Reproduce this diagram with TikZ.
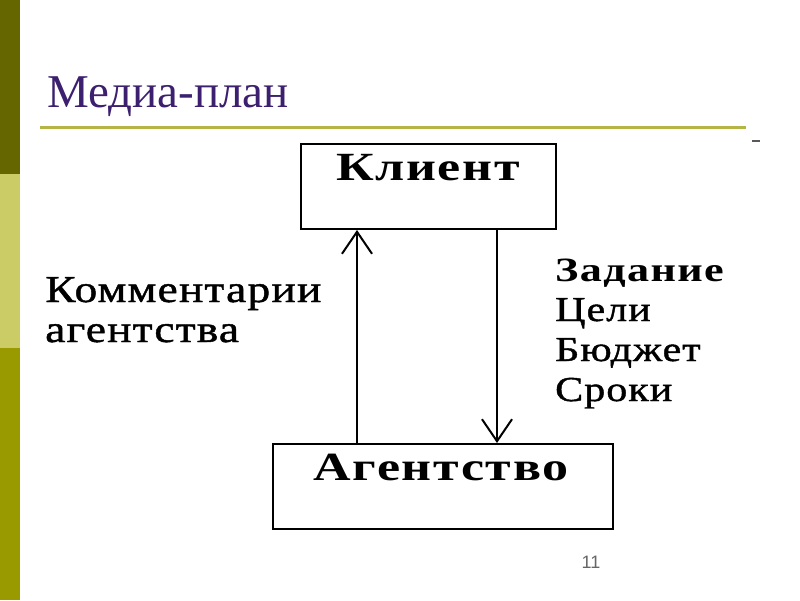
\documentclass[tikz,border=0pt]{standalone}
\usepackage{fontspec}
\setmainfont{Liberation Serif}
\newfontfamily\wideserif[FakeStretch=1.2, LetterSpace=3, FakeBold=1.2]{Liberation Serif}
\newfontfamily\wideserifbold[FakeStretch=1.3, LetterSpace=4]{Liberation Serif Bold}
\newfontfamily\numfont{Liberation Sans}
\usetikzlibrary{arrows.meta}
\definecolor{bardark}{HTML}{666600}
\definecolor{barlight}{HTML}{CCCC66}
\definecolor{barmid}{HTML}{999900}
\definecolor{titlecol}{HTML}{3C1F6E}
\definecolor{rulecol}{HTML}{B5B547}
\begin{document}
\begin{tikzpicture}[
    x=1pt, y=-1pt,
    box/.style={draw, line width=2pt, inner sep=0pt, anchor=north west},
    txt/.style={inner sep=0pt, anchor=base west, font=\wideserif\fontsize{38}{40}\selectfont},
    rtxt/.style={txt, font=\wideserif\fontsize{35}{40}\selectfont},
    bold/.style={txt, font=\wideserifbold\fontsize{40}{40}\selectfont},
    rbold/.style={txt, font=\wideserifbold\fontsize{34}{40}\selectfont},
    flow/.style={line width=2pt, -{Straight Barb[length=22pt, width=30pt, line width=2pt]}},
  ]
    \useasboundingbox (0,0) rectangle (800,600);

    % Side bar
    \fill[bardark] (0,0) rectangle (20,174);
    \fill[barlight] (0,174) rectangle (20,348);
    \fill[barmid] (0,348) rectangle (20,600);

    % Title
    \node[inner sep=0pt, anchor=base west, text=titlecol, font=\fontsize{47}{52}\selectfont] (title) at (47,107) {Медиа-план};
    \draw[rulecol, line width=3pt] (40,127) -- (746,127);
    \draw[gray!70!black, line width=1.5pt] (752,141) -- (760,141);

    % Boxes
    \node[box, minimum width=255pt, minimum height=85pt] (client) at (300,143) {};
    \node[box, minimum width=340pt, minimum height=85pt] (agency) at (272,443) {};
    \node[bold, anchor=base] (clientname) at (428,180) {Клиент};
    \node[bold, anchor=base] (agencyname) at (441,480) {Агентство};

    % Connectors
    \coordinate (upx) at (357,0);
    \coordinate (downx) at (497,0);
    \draw[flow] (upx |- agency.north) -- (upx |- client.south);
    \draw[flow] (downx |- client.south) -- (downx |- agency.north);

    % Labels
    \node[txt] (comm1) at (45,302) {Комментарии};
    \node[txt] (comm2) at (45,342) {агентства};
    \node[rbold] (task) at (555,281) {Задание};
    \node[rtxt] (goals) at (555,321) {Цели};
    \node[rtxt] (budget) at (555,361) {Бюджет};
    \node[rtxt] (terms) at (555,401) {Сроки};

    % Page number
    \node[inner sep=0pt, anchor=base, text=gray!80!black, font=\numfont\fontsize{18}{20}\selectfont] (page) at (591,568) {11};
\end{tikzpicture}
\end{document}
